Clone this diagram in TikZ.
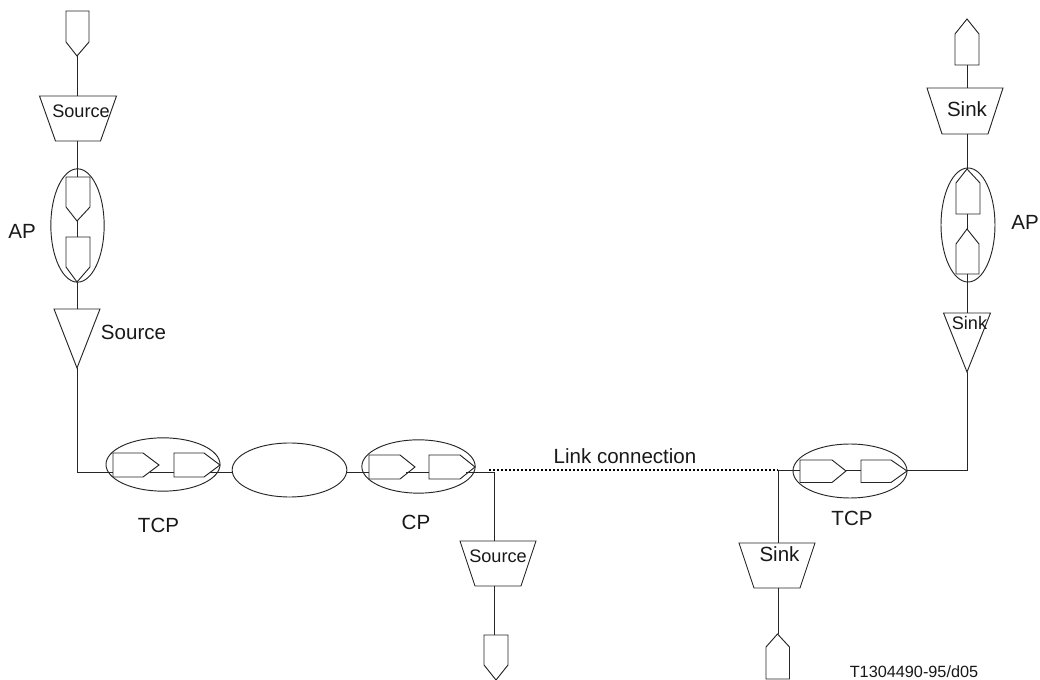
\documentclass[tikz,border=0pt]{standalone}
\usepackage{fontspec}
\setmainfont{Liberation Sans}
\usetikzlibrary{shapes.geometric}
\tikzset{
  ln/.style={draw=black!85,line width=0.7pt,line join=miter},
  oval/.style={ln,ellipse,inner sep=0pt,outer sep=0pt},
  lbl/.style={font=\fontsize{15.4pt}{18pt}\selectfont,inner sep=0pt,anchor=base,text=black!90},
  lblmid/.style={font=\fontsize{13.6pt}{16pt}\selectfont,inner sep=0pt,anchor=base,text=black!90},
  lblsmall/.style={font=\fontsize{12.2pt}{14pt}\selectfont,inner sep=0pt,anchor=base,text=black!90},
  dots/.style={draw=black,line width=1.2pt,dash pattern=on 1.3pt off 1.7pt},
}
% vertical pentagon: name, cx, xl, xr, y flat, y shoulder, y tip
\newcommand{\vpent}[7]{%
  \coordinate (#1-flat) at (#2,#5);
  \coordinate (#1-tip) at (#2,#7);
  \draw[ln] (#3,#5) -- (#4,#5) -- (#4,#6) -- (#2,#7) -- (#3,#6) -- cycle;}
% horizontal pentagon: name, cy, yt, yb, x flat, x shoulder, x tip
\newcommand{\hpent}[7]{%
  \draw[ln] (#5,#3) -- (#6,#3) -- (#7,#2) -- (#6,#4) -- (#5,#4) -- cycle;}
% trapezoid: name, cx, y top, half top, y bottom, half bottom
\newcommand{\trap}[6]{%
  \coordinate (#1-top) at (#2,#3);
  \coordinate (#1-bot) at (#2,#5);
  \draw[ln] ({#2-#4},#3) -- ({#2+#4},#3) -- ({#2+#6},#5) -- ({#2-#6},#5) -- cycle;}
% triangle: name, cx, y top, half top, y tip
\newcommand{\tri}[5]{%
  \coordinate (#1-top) at (#2,#3);
  \coordinate (#1-tip) at (#2,#5);
  \draw[ln] ({#2-#4},#3) -- ({#2+#4},#3) -- (#2,#5) -- cycle;}
\begin{document}
\begin{tikzpicture}[x=0.75pt,y=-0.75pt]
\useasboundingbox (0,0) rectangle (1040,680);
\fill[white] (0,0) rectangle (1040,680);

% ---- left column
\vpent{la}{77}{66}{89}{11}{42}{56}
\trap{lt}{78}{96}{38.5}{141}{22.5}
\node[oval,minimum width=40pt,minimum height=85pt] (lap) at (77.5,225.5) {};
\vpent{lb}{77}{66}{90}{177}{207}{221}
\vpent{lc}{77}{66}{90}{237}{267}{282}
\tri{ltr}{77}{309}{23}{368}
\coordinate (lcorner) at (77,472);

% ---- horizontal chain
\node[oval,minimum width=85.5pt,minimum height=40pt] (tcpl) at (163,464.5) {};
\hpent{}{465}{453}{477}{113}{143}{159}
\hpent{}{465}{453}{477}{174}{204}{220}
\coordinate (a1) at (113,472);
\coordinate (a2) at (150,472);
\coordinate (a3) at (174,472);
\coordinate (a4) at (210,472);

\node[oval,minimum width=86pt,minimum height=40.5pt] (mid) at (289.5,470) {};

\node[oval,minimum width=85pt,minimum height=40pt] (cp) at (418.5,466.5) {};
\hpent{}{467}{455}{479}{369}{400}{415}
\hpent{}{467}{455}{479}{429}{460}{475}
\coordinate (b1) at (369,472);
\coordinate (b2) at (406,472);
\coordinate (b3) at (429,472);
\coordinate (b4) at (466,472);
\coordinate (srcj) at (494,472);
\coordinate (dots1) at (489,470);
\coordinate (dots2) at (778,470);

% ---- bottom middle
\trap{bs}{498}{541}{38}{586}{23}
\vpent{bp}{496}{484}{508}{635}{665}{680}
\coordinate (bs-t) at (494,541);
\coordinate (bs-b) at (494,586);
\coordinate (bp-t) at (494,635);

% ---- bottom right
\trap{bk}{777}{543}{38}{588}{23}
\vpent{bq}{777.5}{766}{789.5}{679}{647}{634}
\coordinate (bk-t) at (778,543);
\coordinate (bk-b) at (778,588);
\coordinate (bq-t) at (778,634);

% ---- right TCP
\node[oval,minimum width=85.5pt,minimum height=40.5pt] (tcpr) at (850,471) {};
\hpent{}{471}{460}{482.5}{800}{832}{846}
\hpent{}{471}{460}{482.5}{861}{891}{907}
\coordinate (c1) at (800,470);
\coordinate (c2) at (846,470);
\coordinate (c3) at (861,470);
\coordinate (c4) at (907,470);
\coordinate (rcorner) at (967,470);

% ---- right column
\vpent{ra}{967}{955}{979}{65}{34}{19}
\trap{rt}{965}{88}{38}{134}{23}
\node[oval,minimum width=40.5pt,minimum height=85.5pt] (rap) at (968,225) {};
\vpent{rb}{967}{956}{980}{214}{183}{169}
\vpent{rc}{967}{956}{979}{274}{244}{229}
\tri{rtr}{967}{313}{23.5}{372}
\coordinate (rt-t) at (967,88);
\coordinate (rt-b) at (967,134);

% ---- connectors
\draw[ln] (la-tip) -- (77,96);
\draw[ln] (77,141) -- (lb-flat);
\draw[ln] (lb-tip) -- (lc-flat);
\draw[ln] (lc-tip) -- (ltr-top);
\draw[ln] (ltr-tip) -- (lcorner) -- (a1);
\draw[ln] (a2) -- (a3);
\draw[ln] (a4) -- (mid.west |- a4);
\draw[ln] (mid.east |- b1) -- (b1);
\draw[ln] (b2) -- (b3);
\draw[ln] (b4) -- (srcj) -- (bs-t);
\draw[ln] (bs-b) -- (bp-t);
\draw[dots] (dots1) -- (dots2);
\draw[ln] (dots2) -- (bk-t);
\draw[ln] (bk-b) -- (bq-t);
\draw[ln] (dots2) -- (c1);
\draw[ln] (c2) -- (c3);
\draw[ln] (c4) -- (rcorner) -- (rtr-tip);
\draw[ln] (ra-flat) -- (rt-t);
\draw[ln] (rt-b) -- (rb-tip);
\draw[ln] (rb-flat) -- (rc-tip);
\draw[ln] (rc-flat) -- (rtr-top);

% ---- labels
\node[lblmid] (t1) at (81,118) {Source};
\node[lbl] (t2) at (22,239) {AP};
\node[lbl] (t3) at (133.5,340) {Source};
\node[lbl] (t4) at (158.5,533) {TCP};
\node[lbl] (t5) at (416,530) {CP};
\node[lblmid] (t6) at (498,563) {Source};
\node[lbl] (t7) at (625,464) {Link connection};
\node[lbl] (t8) at (852,526) {TCP};
\node[lbl] (t9) at (779.5,562) {Sink};
\node[lbl] (t10) at (967,117) {Sink};
\node[lbl] (t11) at (1025,230) {AP};
\node[lblmid] (t12) at (969.5,330) {Sink};
\node[lblsmall] (t13) at (914,678) {T1304490-95/d05};
\end{tikzpicture}
\end{document}
